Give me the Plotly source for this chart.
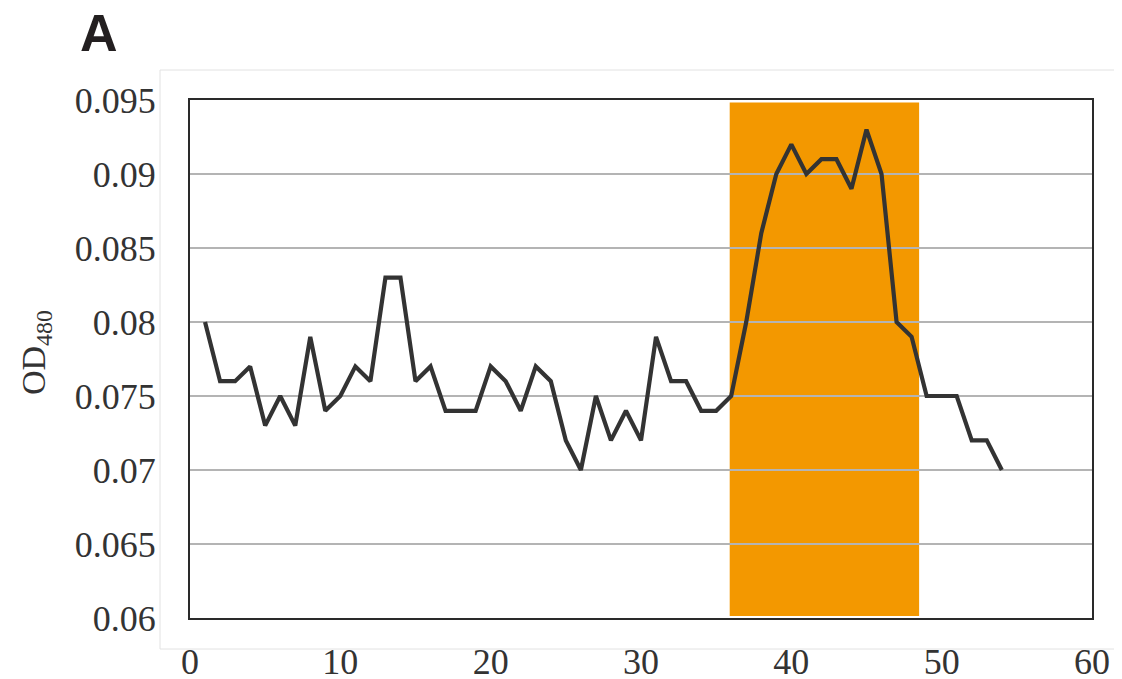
import plotly.graph_objects as go

# ---- data ----
fraction = list(range(1, 55))
od480 = [0.080, 0.076, 0.076, 0.077, 0.073, 0.075, 0.073, 0.079, 0.074, 0.075,
         0.077, 0.076, 0.083, 0.083, 0.076, 0.077, 0.074, 0.074, 0.074, 0.077,
         0.076, 0.074, 0.077, 0.076, 0.072, 0.070, 0.075, 0.072, 0.074, 0.072,
         0.079, 0.076, 0.076, 0.074, 0.074, 0.075, 0.080, 0.086, 0.090, 0.092,
         0.090, 0.091, 0.091, 0.089, 0.093, 0.090, 0.080, 0.079, 0.075, 0.075,
         0.075, 0.072, 0.072, 0.070]
band_start = 35.9
band_end = 48.5
y_ticks = [0.06, 0.065, 0.07, 0.075, 0.08, 0.085, 0.09, 0.095]
y_ticktext = ["0.06", "0.065", "0.07", "0.075", "0.08", "0.085", "0.09", "0.095"]
x_ticks = [0, 10, 20, 30, 40, 50, 60]

OFF = 8  # page body margin
W, H = 1122 - OFF, 679 - OFF
L, T = 190 - OFF, 100 - OFF
R = W - (1092 - OFF)
B = H - (618 - OFF)
pw, ph = W - L - R, H - T - B

def px2x(p):
    return (p - OFF - L) / pw

def px2y(p):
    return (H - B - (p - OFF)) / ph

fig = go.Figure()
fig.add_trace(go.Scatter(
    x=fraction, y=od480, mode="lines",
    line=dict(color="#333333", width=4.2),
    showlegend=False, hoverinfo="skip"))

# orange fraction band
fig.add_shape(type="rect", xref="x", yref="paper",
              x0=band_start, x1=band_end, y0=0.004, y1=0.995,
              fillcolor="#F39800", line=dict(width=0), layer="below")

# faint outer frame
fig.add_shape(type="rect", xref="paper", yref="paper",
              x0=px2x(160), x1=px2x(1118), y0=px2y(649), y1=px2y(70),
              line=dict(color="#e2e2e2", width=1), fillcolor="rgba(0,0,0,0)",
              layer="below")

tickfont = dict(family="Liberation Serif", size=36, color="#333333")

fig.update_layout(
    width=W, height=H,
    margin=dict(l=L, r=R, t=T, b=B, autoexpand=False),
    paper_bgcolor="white", plot_bgcolor="white",
    xaxis=dict(range=[0, 60], tickvals=x_ticks, showgrid=False, zeroline=False,
               showline=True, mirror=True, linecolor="#2a2a2a", linewidth=2,
               ticks="", tickfont=tickfont, ticklabelstandoff=11, automargin=False),
    yaxis=dict(range=[0.06, 0.095], tickvals=y_ticks, ticktext=y_ticktext,
               showgrid=True, gridcolor="#b4b4b4", gridwidth=2, zeroline=False,
               showline=True, mirror=True, linecolor="#2a2a2a", linewidth=2,
               ticks="", tickfont=tickfont, ticklabelstandoff=25, automargin=False),
    annotations=[
        dict(text="<b>A</b>", x=px2x(78), y=px2y(33), xref="paper", yref="paper",
             xanchor="left", yanchor="middle", showarrow=False,
             font=dict(family="Liberation Sans", size=52, color="#231f20")),
        dict(text="OD<sub>480</sub>", x=px2x(36), y=px2y(353), xref="paper", yref="paper",
             xanchor="center", yanchor="middle", textangle=-90, showarrow=False,
             font=dict(family="Liberation Serif", size=34, color="#333333")),
    ],
)

fig.write_html("out.html")
